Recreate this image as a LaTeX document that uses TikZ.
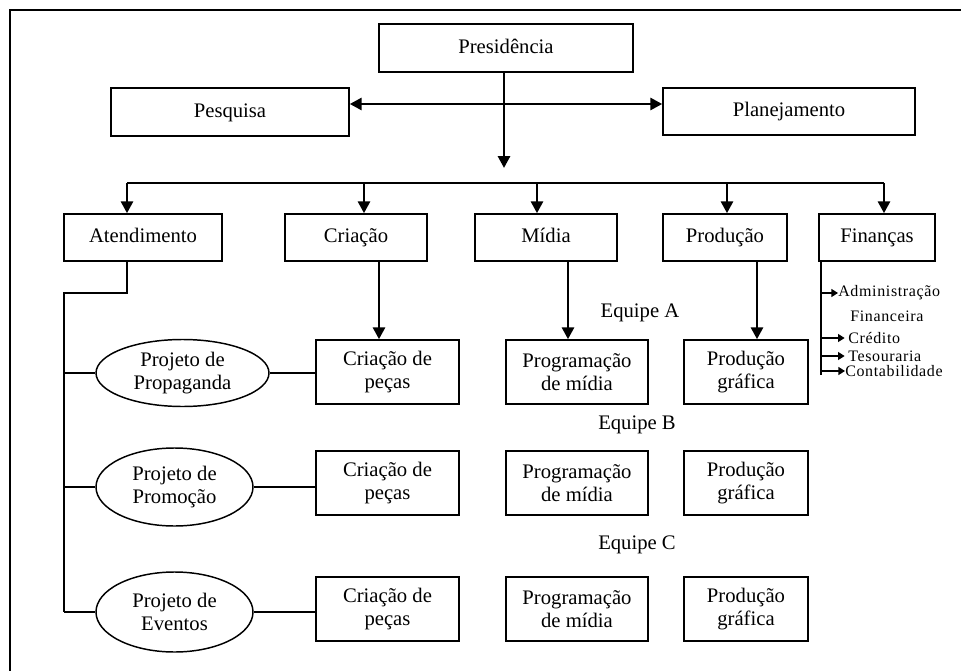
\documentclass[tikz,border=0pt]{standalone}
\usepackage{fontspec}
\setmainfont{Liberation Serif}
\newfontfamily\subfont[LetterSpace=4]{Liberation Serif}
\usetikzlibrary{arrows.meta,shapes.geometric}

\begin{document}
\begin{tikzpicture}[x=0.75pt,y=-0.75pt,
  font=\fontsize{15.5pt}{17.5pt}\selectfont,
  box/.style={draw, line width=1.1pt, inner sep=0pt, align=center},
  oneline/.style={text height=11pt, text depth=3.5pt},
  wh/.style 2 args={minimum width=#1*0.75pt, minimum height=#2*0.75pt},
  oval/.style={draw, ellipse, line width=1.1pt, inner sep=0pt, align=center},
  arr/.style={line width=2.2pt, -{Triangle[length=9pt,width=9pt]}},
  duoarr/.style={line width=2.2pt, {Triangle[length=9pt,width=9pt]}-{Triangle[length=9pt,width=9pt]}},
  link/.style={line width=1.1pt},
  subarr/.style={line width=1pt, -{Triangle[length=5pt,width=6pt]}},
  sublbl/.style={anchor=west, inner sep=0pt, font=\subfont\fontsize{12pt}{13pt}\selectfont},
  team/.style={inner sep=0pt}]

\useasboundingbox (0,0) rectangle (961,671);
\fill[white] (0,0) rectangle (961,671);

% outer frame (top and left sides)
\draw[line width=2pt] (10,671) -- (10,10) -- (961,10);

% top level
\node[box, oneline, wh={254}{48}] (pres) at (506,48) {Presidência};
\node[box, oneline, wh={238}{48}] (pesq) at (230,112) {Pesquisa};
\node[box, oneline, wh={252}{47}] (plan) at (789,111.5) {Planejamento};

% departments
\node[box, oneline, wh={158}{47}] (aten)  at (143,237.5) {Atendimento};
\node[box, oneline, wh={142}{47}] (cria)  at (356,237.5) {Criação};
\node[box, oneline, wh={142}{47}] (midia) at (546,237.5) {Mídia};
\node[box, oneline, wh={124}{47}] (prod)  at (725,237.5) {Produção};
\node[box, oneline, wh={116}{47}] (fin)   at (877,237.5) {Finanças};

% projects
\node[oval, minimum width=173*0.75pt, minimum height=67*0.75pt] (e1) at (182.5,373) {Projeto de\\Propaganda};
\node[oval, minimum width=157*0.75pt, minimum height=78*0.75pt] (e2) at (174.5,487) {Projeto de\\Promoção};
\node[oval, minimum width=157*0.75pt, minimum height=80*0.75pt] (e3) at (174.5,612) {Projeto de\\Eventos};

% team boxes
\node[box, wh={143}{64}] (cp1) at (387.5,372) {Criação de\\peças};
\node[box, wh={143}{64}] (cp2) at (387.5,483) {Criação de\\peças};
\node[box, wh={143}{64}] (cp3) at (387.5,609) {Criação de\\peças};
\node[box, wh={142}{64}] (pm1) at (577,372) {Programação\\de mídia};
\node[box, wh={142}{64}] (pm2) at (577,483) {Programação\\de mídia};
\node[box, wh={142}{64}] (pm3) at (577,609) {Programação\\de mídia};
\node[box, wh={124}{64}] (pg1) at (746,372) {Produção\\gráfica};
\node[box, wh={124}{64}] (pg2) at (746,483) {Produção\\gráfica};
\node[box, wh={124}{64}] (pg3) at (746,609) {Produção\\gráfica};

% team labels
\node[team] (ta) at (640,313) {Equipe A};
\node[team] (tb) at (637,425) {Equipe B};
\node[team] (tc) at (637,545) {Equipe C};

% finance sub-items
\node[sublbl] (s1) at (838,293) {Administração};
\node[sublbl] (s2) at (850,316) {Financeira};
\node[sublbl] (s3) at (848,338) {Crédito};
\node[sublbl] (s4) at (848,356) {Tesouraria};
\node[sublbl] (s5) at (845,371) {Contabilidade};

% presidency connectors
\coordinate (hub) at (504,168);
\coordinate (mid) at (504,104);
\draw[arr] (pres.south -| hub) -- (hub);
\draw[duoarr] (mid -| pesq.east) -- (mid -| plan.west);

% bus to departments
\coordinate (bA) at (127,183);
\coordinate (bC) at (364,183);
\coordinate (bM) at (537,183);
\coordinate (bP) at (727,183);
\coordinate (bF) at (884,183);
\draw[line width=1.3pt] (bA) -- (bF);
\draw[arr] (bA) -- (bA |- aten.north);
\draw[arr] (bC) -- (bC |- cria.north);
\draw[arr] (bM) -- (bM |- midia.north);
\draw[arr] (bP) -- (bP |- prod.north);
\draw[arr] (bF) -- (bF |- fin.north);

% departments to team A
\coordinate (dC) at (379,0);
\coordinate (dM) at (568,0);
\coordinate (dP) at (757,0);
\draw[arr] (dC |- cria.south) -- (dC |- cp1.north);
\draw[arr] (dM |- midia.south) -- (dM |- pm1.north);
\draw[arr] (dP |- prod.south) -- (dP |- pg1.north);

% account management trunk
\coordinate (t0) at (127,293);
\coordinate (t1) at (64,293);
\draw[link] (t0 |- aten.south) -- (t0) -- (t1) -- (t1 |- e3.west);
\draw[link] (t1 |- e1.west) -- (e1.west);
\draw[link] (t1 |- e2.west) -- (e2.west);
\draw[link] (t1 |- e3.west) -- (e3.west);

% projects to creation teams
\draw[link] (e1.east) -- (e1.east -| cp1.west);
\draw[link] (e2.east) -- (e2.east -| cp2.west);
\draw[link] (e3.east) -- (e3.east -| cp3.west);

% finance branches
\coordinate (f0) at (821,375);
\draw[link] (f0 |- fin.south) -- (f0);
\draw[subarr] (f0 |- s1.west) -- (s1.west);
\draw[subarr] (f0 |- s3.west) -- ([xshift=-2.5pt]s3.west);
\draw[subarr] (f0 |- s4.west) -- ([xshift=-2.5pt]s4.west);
\draw[subarr] (f0 |- s5.west) -- (s5.west);
\end{tikzpicture}
\end{document}
